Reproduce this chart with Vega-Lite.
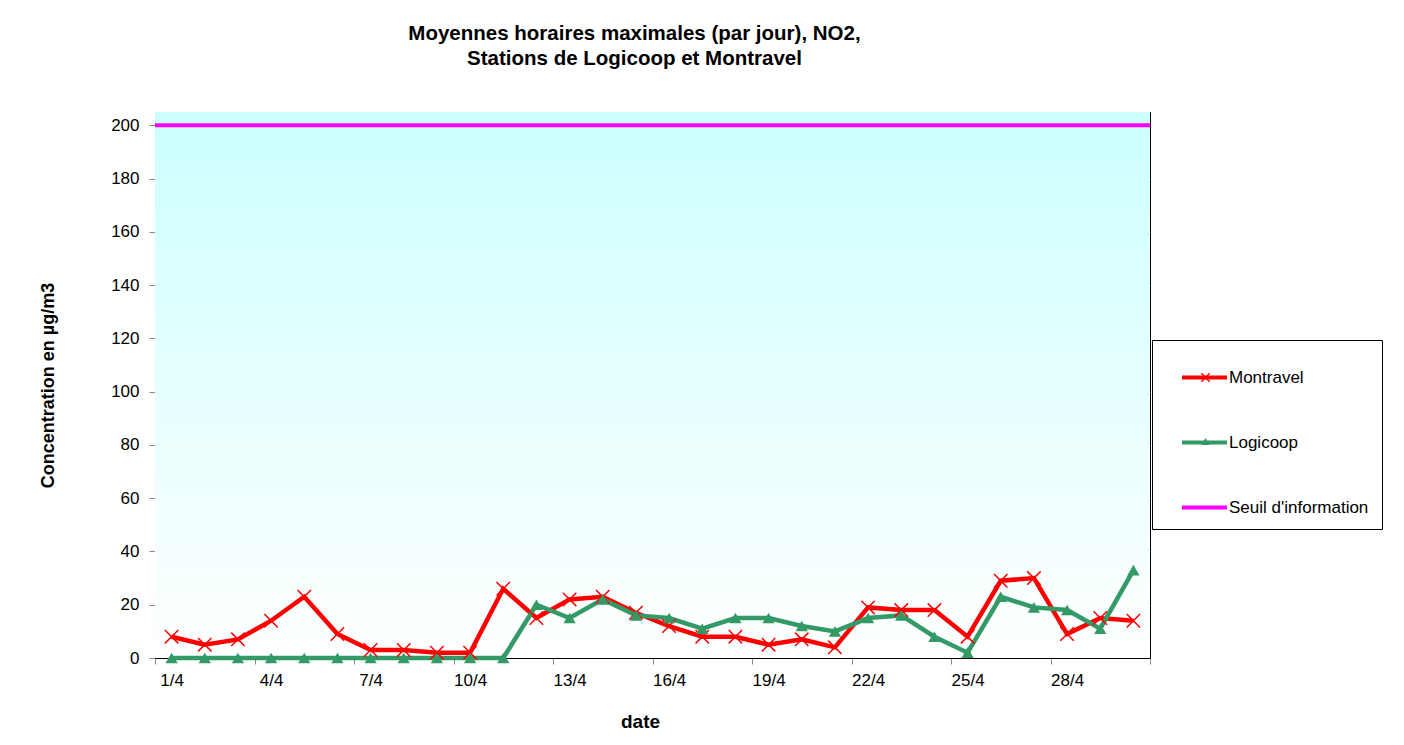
{
  "$schema": "https://vega.github.io/schema/vega-lite/v6.json",
  "autosize": "none",
  "width": 995,
  "height": 546,
  "padding": {"left": 155, "top": 112, "right": 254, "bottom": 87},
  "background": "white",
  "config": {
    "font": "Liberation Sans",
    "view": {"stroke": "black", "strokeWidth": 1},
    "axis": {"labelFont": "Liberation Sans", "titleFont": "Liberation Sans", "labelColor": "black", "titleColor": "black", "domainColor": "black", "tickColor": "#888888"}
  },
  "title": {
    "text": ["Moyennes horaires maximales (par jour), NO2,", "Stations de Logicoop et Montravel"],
    "font": "Liberation Sans",
    "fontSize": 20.5,
    "fontWeight": "bold",
    "lineHeight": 25,
    "anchor": "middle",
    "dx": -18,
    "offset": 43,
    "color": "black"
  },
  "datasets": {
    "series": [
      {"day": 1, "station": "Montravel", "value": 8},
      {"day": 2, "station": "Montravel", "value": 5},
      {"day": 3, "station": "Montravel", "value": 7},
      {"day": 4, "station": "Montravel", "value": 14},
      {"day": 5, "station": "Montravel", "value": 23},
      {"day": 6, "station": "Montravel", "value": 9},
      {"day": 7, "station": "Montravel", "value": 3},
      {"day": 8, "station": "Montravel", "value": 3},
      {"day": 9, "station": "Montravel", "value": 2},
      {"day": 10, "station": "Montravel", "value": 2},
      {"day": 11, "station": "Montravel", "value": 26},
      {"day": 12, "station": "Montravel", "value": 15},
      {"day": 13, "station": "Montravel", "value": 22},
      {"day": 14, "station": "Montravel", "value": 23},
      {"day": 15, "station": "Montravel", "value": 17},
      {"day": 16, "station": "Montravel", "value": 12},
      {"day": 17, "station": "Montravel", "value": 8},
      {"day": 18, "station": "Montravel", "value": 8},
      {"day": 19, "station": "Montravel", "value": 5},
      {"day": 20, "station": "Montravel", "value": 7},
      {"day": 21, "station": "Montravel", "value": 4},
      {"day": 22, "station": "Montravel", "value": 19},
      {"day": 23, "station": "Montravel", "value": 18},
      {"day": 24, "station": "Montravel", "value": 18},
      {"day": 25, "station": "Montravel", "value": 8},
      {"day": 26, "station": "Montravel", "value": 29},
      {"day": 27, "station": "Montravel", "value": 30},
      {"day": 28, "station": "Montravel", "value": 9},
      {"day": 29, "station": "Montravel", "value": 15},
      {"day": 30, "station": "Montravel", "value": 14},
      {"day": 1, "station": "Logicoop", "value": 0},
      {"day": 2, "station": "Logicoop", "value": 0},
      {"day": 3, "station": "Logicoop", "value": 0},
      {"day": 4, "station": "Logicoop", "value": 0},
      {"day": 5, "station": "Logicoop", "value": 0},
      {"day": 6, "station": "Logicoop", "value": 0},
      {"day": 7, "station": "Logicoop", "value": 0},
      {"day": 8, "station": "Logicoop", "value": 0},
      {"day": 9, "station": "Logicoop", "value": 0},
      {"day": 10, "station": "Logicoop", "value": 0},
      {"day": 11, "station": "Logicoop", "value": 0},
      {"day": 12, "station": "Logicoop", "value": 20},
      {"day": 13, "station": "Logicoop", "value": 15},
      {"day": 14, "station": "Logicoop", "value": 22},
      {"day": 15, "station": "Logicoop", "value": 16},
      {"day": 16, "station": "Logicoop", "value": 15},
      {"day": 17, "station": "Logicoop", "value": 11},
      {"day": 18, "station": "Logicoop", "value": 15},
      {"day": 19, "station": "Logicoop", "value": 15},
      {"day": 20, "station": "Logicoop", "value": 12},
      {"day": 21, "station": "Logicoop", "value": 10},
      {"day": 22, "station": "Logicoop", "value": 15},
      {"day": 23, "station": "Logicoop", "value": 16},
      {"day": 24, "station": "Logicoop", "value": 8},
      {"day": 25, "station": "Logicoop", "value": 2},
      {"day": 26, "station": "Logicoop", "value": 23},
      {"day": 27, "station": "Logicoop", "value": 19},
      {"day": 28, "station": "Logicoop", "value": 18},
      {"day": 29, "station": "Logicoop", "value": 11},
      {"day": 30, "station": "Logicoop", "value": 33}
    ],
    "seuil": [
      {"station": "Seuil d'information", "value": 200}
    ],
    "bg": [
      {"x0": 0.5, "x1": 30.5, "y0": 0, "y1": 205}
    ]
  },
  "layer": [
    {
      "data": {"name": "bg"},
      "mark": {
        "type": "rect",
        "color": {
          "gradient": "linear",
          "x1": 0, "y1": 0, "x2": 0, "y2": 1,
          "stops": [
            {"offset": 0, "color": "#CCFFFF"},
            {"offset": 1, "color": "#FFFFFF"}
          ]
        }
      },
      "encoding": {
        "x": {"field": "x0", "type": "quantitative", "scale": {"domain": [0.5, 30.5], "nice": false, "zero": false}},
        "x2": {"field": "x1"},
        "y": {"field": "y0", "type": "quantitative", "scale": {"domain": [0, 205], "nice": false}},
        "y2": {"field": "y1"}
      }
    },
    {
      "data": {"name": "series"},
      "mark": {"type": "line", "strokeWidth": 4.5, "strokeJoin": "miter"},
      "encoding": {
        "x": {
          "field": "day", "type": "quantitative",
          "scale": {"domain": [0.5, 30.5], "nice": false, "zero": false},
          "axis": {
            "title": "date",
            "titleFontSize": 19,
            "titleFontWeight": "bold",
            "titlePadding": 24,
            "titleX": 485,
            "values": [0.5, 3.5, 6.5, 9.5, 12.5, 15.5, 18.5, 21.5, 24.5, 27.5, 30.5],
            "labelExpr": "datum.value > 30 ? '' : (datum.value + 0.5) + '/4'",
            "labelOffset": 16.58,
            "labelFontSize": 17,
            "labelPadding": 8,
            "labelFlush": false,
            "labelOverlap": false,
            "tickSize": 6,
            "grid": false
          }
        },
        "y": {
          "field": "value", "type": "quantitative",
          "scale": {"domain": [0, 205], "nice": false},
          "axis": {
            "title": "Concentration en µg/m3",
            "titleFontSize": 18,
            "titleFontWeight": "bold",
            "titlePadding": 53,
            "values": [0, 20, 40, 60, 80, 100, 120, 140, 160, 180, 200],
            "labelFontSize": 17,
            "labelPadding": 10,
            "tickSize": 6,
            "grid": true,
            "gridColor": "#A6A6A6",
            "gridWidth": 1
          }
        },
        "color": {
          "field": "station", "type": "nominal",
          "scale": {"domain": ["Montravel", "Logicoop", "Seuil d'information"], "range": ["#FF0000", "#339966", "#FF00FF"]},
          "legend": {
            "title": null,
            "orient": "none",
            "legendX": 997,
            "legendY": 228,
            "symbolType": "stroke",
            "symbolSize": 2025,
            "symbolStrokeWidth": 4,
            "symbolOffset": 15,
            "labelFontSize": 17,
            "labelFont": "Liberation Sans",
            "labelColor": "black",
            "labelOffset": 0,
            "rowPadding": 32,
            "padding": 13,
            "strokeColor": "black",
            "fillColor": "white"
          }
        }
      }
    },
    {
      "data": {"name": "series"},
      "transform": [{"filter": "datum.station === 'Montravel'"}],
      "mark": {"type": "point", "shape": "M-1,-1L1,1M-1,1L1,-1", "filled": false, "strokeWidth": 1.5, "size": 180, "opacity": 1},
      "encoding": {
        "x": {"field": "day", "type": "quantitative"},
        "y": {"field": "value", "type": "quantitative"},
        "stroke": {
          "field": "station", "type": "nominal",
          "scale": {"domain": ["Montravel"], "range": ["#FF0000"]},
          "legend": {
            "title": null,
            "orient": "none",
            "legendX": 997,
            "legendY": 244,
            "symbolType": "M-1,-1L1,1M-1,1L1,-1",
            "symbolSize": 70,
            "symbolStrokeWidth": 1.5,
            "symbolOffset": 32,
            "labelExpr": "''",
            "labelFontSize": 17,
            "labelOffset": 0,
            "padding": 13,
            "strokeColor": null,
            "fillColor": null
          }
        }
      }
    },
    {
      "data": {"name": "series"},
      "transform": [{"filter": "datum.station === 'Logicoop'"}],
      "mark": {"type": "point", "shape": "triangle-up", "filled": true, "size": 150, "opacity": 1},
      "encoding": {
        "x": {"field": "day", "type": "quantitative"},
        "y": {"field": "value", "type": "quantitative"},
        "fill": {
          "field": "station", "type": "nominal",
          "scale": {"domain": ["Logicoop"], "range": ["#339966"]},
          "legend": {
            "title": null,
            "orient": "none",
            "legendX": 997,
            "legendY": 308,
            "symbolType": "triangle-up",
            "symbolSize": 70,
            "symbolOffset": 32,
            "labelExpr": "''",
            "labelFontSize": 17,
            "labelOffset": 0,
            "padding": 13,
            "strokeColor": null,
            "fillColor": null
          }
        }
      }
    },
    {
      "data": {"name": "seuil"},
      "mark": {"type": "rule", "strokeWidth": 4},
      "encoding": {
        "y": {"field": "value", "type": "quantitative"},
        "color": {"field": "station", "type": "nominal"}
      }
    }
  ]
}
